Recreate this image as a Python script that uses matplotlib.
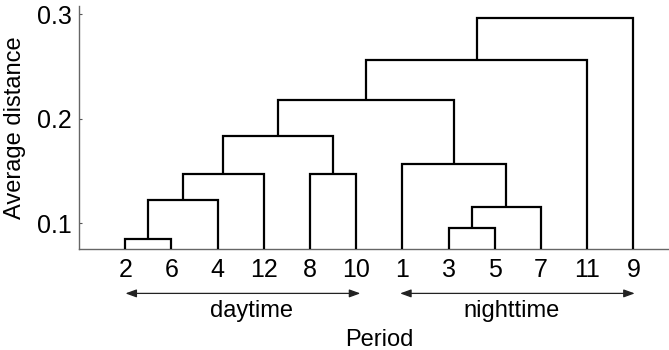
import matplotlib
matplotlib.use("Agg")
import matplotlib.pyplot as plt

plt.rcParams['font.family'] = ['Liberation Sans', 'DejaVu Sans']

# Leaf order (periods) along the x axis
period_order = ['2', '6', '4', '12', '8', '10', '1', '3', '5', '7', '11', '9']

# Merges: node m1..m11 joins merge_a[i] with merge_b[i] at merge_height[i]
merge_a = ['2', 'm1', 'm2', '8', 'm3', '3', 'm6', '1', 'm5', 'm9', 'm10']
merge_b = ['6', '4', '12', '10', 'm4', '5', '7', 'm7', 'm8', '11', '9']
merge_height = [0.085, 0.122, 0.147, 0.147, 0.183, 0.0956, 0.115, 0.157,
                0.218, 0.256, 0.296]

group_labels = ['daytime', 'nighttime']
group_first = ['2', '1']
group_last = ['10', '9']

fig = plt.figure(figsize=(6.69, 3.5), dpi=100)
ax = fig.add_axes([0.1181, 0.2877, 0.8977, 0.696])

ymin, ymax = 0.075, 0.308
pos = {lab: i + 1 for i, lab in enumerate(period_order)}
hgt = {lab: ymin for lab in period_order}
for i, (a, b, h) in enumerate(zip(merge_a, merge_b, merge_height)):
    xa, xb = pos[a], pos[b]
    ax.plot([xa, xa, xb, xb], [hgt[a], h, h, hgt[b]], color='black',
            lw=1.6, solid_joinstyle='miter', solid_capstyle='butt', zorder=3)
    name = 'm%d' % (i + 1)
    pos[name] = (xa + xb) / 2
    hgt[name] = h

ax.set_xlim(0, len(period_order) + 1)
ax.set_ylim(ymin, ymax)
ax.set_xticks(range(1, len(period_order) + 1))
ax.set_xticklabels(period_order)
ax.set_yticks([0.1, 0.2, 0.3])
ax.set_yticklabels(['0.1', '0.2', '0.3'])
ax.tick_params(axis='x', length=0, pad=6, labelsize=18)
ax.tick_params(axis='y', direction='in', length=2.5, width=0.8,
               color='#555555', pad=5.3, labelsize=18)
for s in ['top', 'right']:
    ax.spines[s].set_visible(False)
for s in ['left', 'bottom']:
    ax.spines[s].set_color('#666666')
    ax.spines[s].set_linewidth(1.0)

ax.set_ylabel('Average distance', fontsize=17, labelpad=8)

trans = ax.get_xaxis_transform()
arrow_x0 = [1.005, 6.95]
arrow_x1 = [6.09, 12.03]
text_x = [3.73, 9.37]
for lab, x0, x1, tx in zip(group_labels, arrow_x0, arrow_x1, text_x):
    ax.annotate('', xy=(x1, -0.181), xytext=(x0, -0.181), xycoords=trans,
                textcoords=trans, annotation_clip=False,
                arrowprops=dict(arrowstyle='<|-|>,head_length=0.55,head_width=0.2',
                                mutation_scale=12, color='#222222', lw=0.9,
                                shrinkA=0, shrinkB=0))
    ax.text(tx, -0.279, lab, transform=trans, ha='center', va='baseline',
            fontsize=17)

ax.text((379 - 78.5) / 46.2, -0.395, 'Period', transform=trans,
        ha='center', va='baseline', fontsize=17)

fig.savefig('out.png', dpi=100)
